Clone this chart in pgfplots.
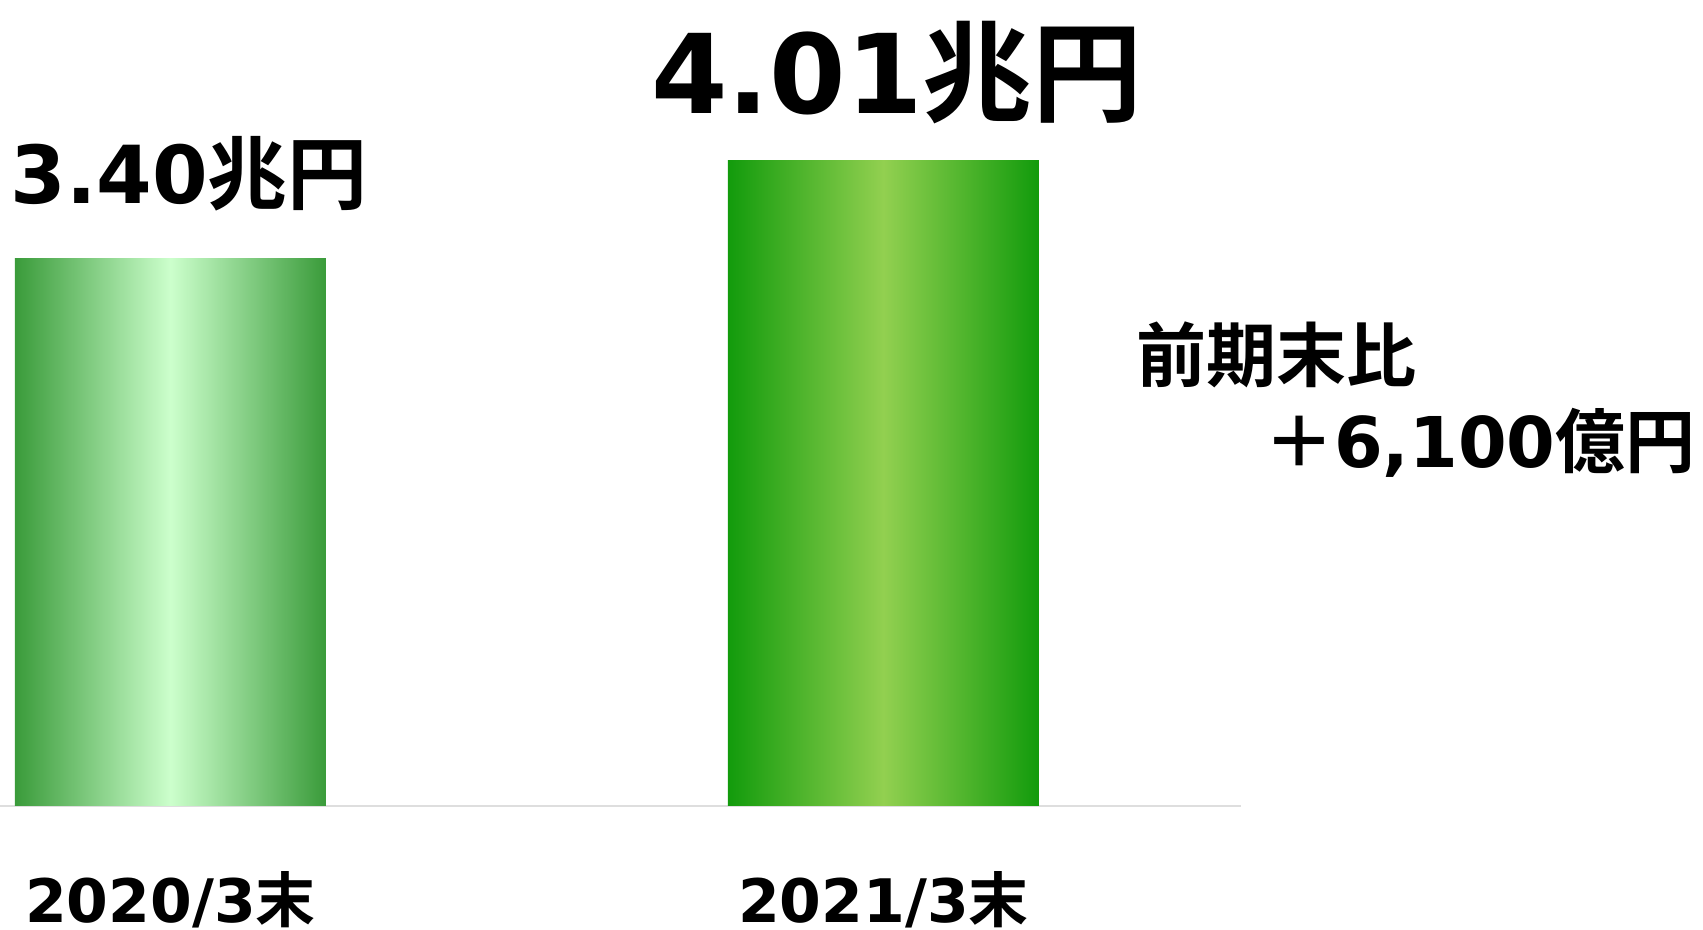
\documentclass[border=0pt]{standalone}
\usepackage{fontspec}
\setmainfont{DejaVu Sans}
\newfontfamily\jp{Noto Sans CJK JP}[UprightFont=* Bold, BoldFont=* Bold]
\usepackage{pgfplots}
\pgfplotsset{compat=1.18}
\definecolor{gAedge}{RGB}{58,155,58}
\definecolor{gAmid}{RGB}{204,255,204}
\definecolor{gBedge}{RGB}{18,155,12}
\definecolor{gBmid}{RGB}{146,208,80}
\definecolor{axisgray}{RGB}{222,222,222}
\begin{document}
\begin{tikzpicture}
\path[use as bounding box] (0,0) rectangle (851.5pt,465pt);
\begin{axis}[
  at={(0pt,62pt)}, anchor=south west,
  scale only axis, width=620.5pt, height=403pt,
  xmin=-0.2391, xmax=1.5015, ymin=0, ymax=5.006,
  axis x line=bottom, axis y line=none,
  axis line style={draw=axisgray, line width=1.2pt, -},
  xtick={0,1},
  xticklabels={{2020/3{\jp 末}},{2021/3{\jp 末}}},
  major tick length=0pt,
  xticklabel style={anchor=base, yshift=-58.5pt, inner sep=0pt, font=\bfseries\fontsize{30}{30}\selectfont},
  ytick=\empty,
  clip=false,
]
\addplot[ybar, bar width=155.5pt, bar shift=0pt, draw=none, left color=gAedge, right color=gAedge, middle color=gAmid] coordinates {(0,3.40)};
\addplot[ybar, bar width=155.5pt, bar shift=0pt, draw=none, left color=gBedge, right color=gBedge, middle color=gBmid] coordinates {(1,4.01)};
\node[anchor=base west, inner sep=0pt, font=\bfseries\fontsize{40}{40}\selectfont] at (axis cs:-0.225,3.739) {3.40{\jp 兆円}};
\node[anchor=base west, inner sep=0pt, font=\bfseries\fontsize{55}{55}\selectfont] at (axis cs:0.674,4.298) {4.01{\jp 兆円}};
\node[anchor=west, inner sep=0pt, font=\jp\fontsize{35}{35}\selectfont] at (axis cs:1.354,2.80) {前期末比};
\node[anchor=east, inner sep=0pt, font=\bfseries\fontsize{35}{35}\selectfont] at (axis cs:2.1396,2.258) {{\jp ＋}6,100{\jp 億円}};
\end{axis}
\end{tikzpicture}
\end{document}
